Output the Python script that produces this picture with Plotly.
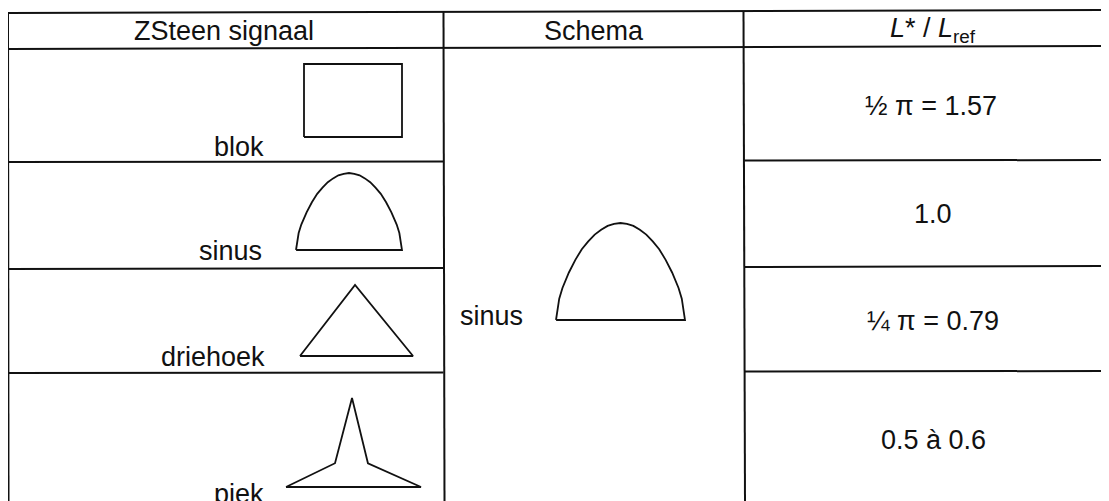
import plotly.graph_objects as go

# ---------------- data ----------------
header_labels = ["ZSteen signaal", "Schema", "<i>L</i>* / <i>L</i><sub>ref</sub>"]
signal_names = ["blok", "sinus", "driehoek", "piek"]
ratio_labels = ["½ π = 1.57", "1.0", "¼ π = 0.79", "0.5 à 0.6"]
schema_name = "sinus"

# normalised outlines (u: 0..1 left->right, v: 0..1 bottom->top)
blok_u = [0, 0, 1, 1, 0]
blok_v = [0, 1, 1, 0, 0]
sinus_u = [0, 0.025, 0.05, 0.1, 0.15, 0.2, 0.25, 0.3, 0.35, 0.4, 0.45, 0.5,
           0.55, 0.6, 0.65, 0.7, 0.75, 0.8, 0.85, 0.9, 0.95, 0.975, 1, 0]
sinus_v = [0, 0.22, 0.33, 0.49, 0.62, 0.73, 0.81, 0.88, 0.93, 0.97, 0.99, 1.0,
           0.99, 0.97, 0.93, 0.88, 0.81, 0.73, 0.62, 0.49, 0.33, 0.22, 0, 0]
driehoek_u = [0, 0.487, 1, 0]
driehoek_v = [0, 1, 0, 0]
piek_u = [0, 0.363, 0.489, 0.607, 1, 0]
piek_v = [0, 0.267, 1, 0.267, 0, 0]

# ---------------- layout (positions / styles) ----------------
W, H = 1109, 501
OFF = 8  # page body margin compensation
INK = "#111111"
FONT = "Liberation Sans, Arial, Helvetica, sans-serif"
FS = 27

# table rules: (x0, y0, x1, y1)
rules = [
    (8, 13, 1109, 10),      # top
    (8, 49, 1109, 46),      # header bottom
    (8, 162, 443.5, 161.5), (744, 160.5, 1109, 160),
    (8, 269, 443.5, 268), (744, 267, 1109, 266),
    (8, 373, 443.5, 372.5), (744, 371.5, 1109, 371),
    (8, 13, 8.5, 501),
    (443.5, 12, 444.5, 501),
    (743.5, 11, 745, 501),
]

# outline placement boxes: (x_left, x_right, y_bottom, y_top)
boxes = {
    "blok": (304, 402, 137, 64),
    "sinus": (296, 402, 250, 173),
    "driehoek": (300, 413, 356, 285),
    "piek": (286, 421, 487, 398),
    "schema": (556, 685, 320, 223),
}
profiles = {
    "blok": (blok_u, blok_v),
    "sinus": (sinus_u, sinus_v),
    "driehoek": (driehoek_u, driehoek_v),
    "piek": (piek_u, piek_v),
    "schema": (sinus_u, sinus_v),
}

header_pos = [(224, 31), (594, 31), (933, 30)]
signal_pos = [(239, 147), (230, 251), (213, 357), (239, 494)]
ratio_pos = [(931, 106), (933, 214), (933, 321), (933, 440)]
schema_label_pos = (491, 316)

fig = go.Figure()

for key, (u, v) in profiles.items():
    xl, xr, yb, yt = boxes[key]
    xs = [xl + ui * (xr - xl) for ui in u]
    ys = [yb - vi * (yb - yt) for vi in v]
    fig.add_trace(go.Scatter(
        x=xs, y=ys, mode="lines",
        line=dict(color=INK, width=1.8),
        hoverinfo="skip", showlegend=False,
    ))

shapes = []
for x0, y0, x1, y1 in rules:
    shapes.append(dict(type="line", x0=x0, y0=y0, x1=x1, y1=y1, xref="x", yref="y",
                       line=dict(color=INK, width=2)))

annotations = []
def add_text(txt, pos):
    annotations.append(dict(x=pos[0], y=pos[1], xref="x", yref="y", text=txt,
                            showarrow=False, xanchor="center", yanchor="middle",
                            font=dict(family=FONT, size=FS, color=INK)))

for t, p in zip(header_labels, header_pos):
    add_text(t, p)
for t, p in zip(signal_names, signal_pos):
    add_text(t, p)
for t, p in zip(ratio_labels, ratio_pos):
    add_text(t, p)
add_text(schema_name, schema_label_pos)

fig.update_layout(
    width=W, height=H,
    margin=dict(l=0, r=0, t=0, b=0),
    paper_bgcolor="white", plot_bgcolor="white",
    xaxis=dict(range=[OFF, W + OFF], visible=False, fixedrange=True),
    yaxis=dict(range=[H + OFF, OFF], visible=False, fixedrange=True),
    shapes=shapes, annotations=annotations,
    showlegend=False,
)

fig.write_html("out.html")
